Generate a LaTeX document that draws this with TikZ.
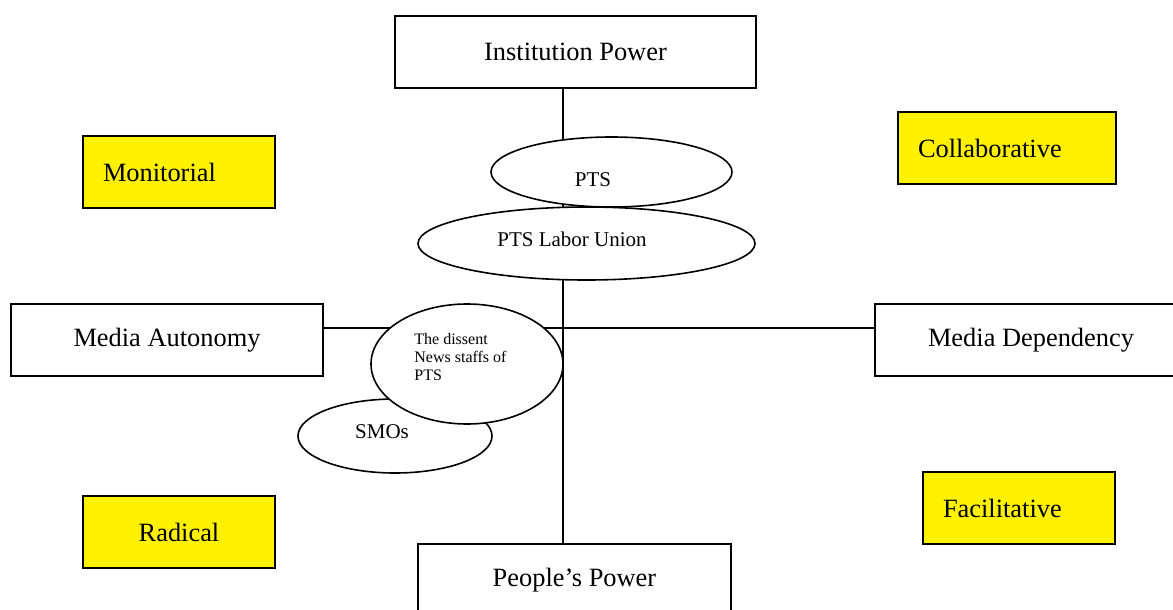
\documentclass[tikz,border=0pt]{standalone}
\usepackage{fontspec}
\setmainfont{Liberation Serif}
\usetikzlibrary{shapes, positioning}
\tikzset{
  plain box/.style={
    draw, line width=1pt,
    minimum width={#1pt}, minimum height=36pt,
    font=\fontsize{13.2}{15}\selectfont,
  },
  key box/.style={
    draw, fill=yellow, line width=1pt,
    text width={#1pt}, inner xsep=10pt,
    minimum height=36pt, align=left,
    font=\fontsize{13.2}{15}\selectfont,
  },
  oval/.style={
    draw, ellipse, fill=white, line width=0.8pt, inner sep=0pt,
  },
  oval text/.style={
    inner sep=0pt, font=\fontsize{10.5}{12}\selectfont,
  },
}
\begin{document}
\begin{tikzpicture}[x=0.5pt, y=-0.5pt]
  \useasboundingbox (0,0) rectangle (1173,610);
  % the four poles
  \node[plain box=180.5] (inst) at (575.5,52) {Institution Power};
  \node[plain box=156] (auto) at (167,340) {Media Autonomy};
  \node[plain box=156] (dep) at (1031,340) {Media Dependency};
  \node[plain box=156.5] (people) at (574.5,580) {People’s Power};
  % the four roles
  \node[key box=76] (monitorial) at (179,172) {Monitorial};
  \node[key box=89] (collab) at (1007,148) {Collaborative};
  \node[key box=76, align=center] (radical) at (179,532) {Radical};
  \node[key box=76] (facil) at (1019,508) {Facilitative};
  % axes
  \coordinate (hub) at (563,328);
  \draw[line width=1pt] (inst.south -| hub) -- (people.north -| hub);
  \draw[line width=1pt] (auto.east |- hub) -- (dep.west |- hub);
  % actors
  \node[oval, minimum width=120.5pt, minimum height=35pt] (pts) at (611.5,172) {};
  \node[oval, minimum width=168.5pt, minimum height=36.5pt] (union) at (586.5,243.5) {};
  \node[oval, minimum width=97pt, minimum height=37pt] (smos) at (395,436) {};
  \node[oval, minimum width=96pt, minimum height=60pt] (dissent) at (467,364) {};
  \node[oval text] (pts label) at ([shift={(-18.5,8)}]pts.center) {PTS};
  \node[oval text] (union label) at ([shift={(-14.5,-4)}]union.center) {PTS Labor Union};
  \node[oval text] (smos label) at ([shift={(-13,-4.5)}]smos.center) {SMOs};
  \node[oval text, font=\fontsize{8}{9}\selectfont, align=left, anchor=north west]
    (dissent label) at (414,333) {The dissent\\News staffs of\\PTS};
\end{tikzpicture}
\end{document}
